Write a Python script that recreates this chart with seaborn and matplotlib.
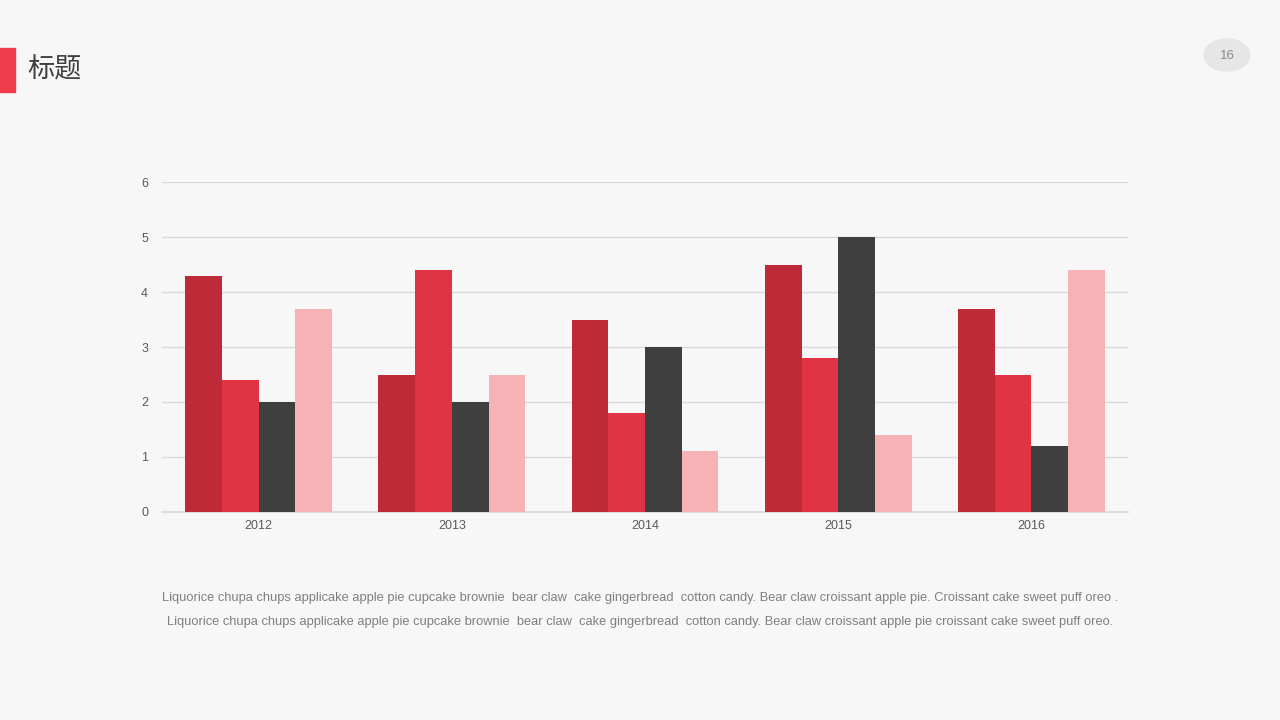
import pandas as pd
import seaborn as sns
import matplotlib.pyplot as plt
from matplotlib.patches import Rectangle, Ellipse

# data
years = ['2012', '2013', '2014', '2015', '2016']
series_names = ['系列1', '系列2', '系列3', '系列4']
s1 = [4.3, 2.5, 3.5, 4.5, 3.7]
s2 = [2.4, 4.4, 1.8, 2.8, 2.5]
s3 = [2.0, 2.0, 3.0, 5.0, 1.2]
s4 = [3.7, 2.5, 1.1, 1.4, 4.4]
colors = ['#BE2A37', '#E03444', '#3F3F3F', '#F7B2B5']
y_ticks = [0, 1, 2, 3, 4, 5, 6]
caption = ['Liquorice chupa chups applicake apple pie cupcake brownie  bear claw  cake gingerbread  cotton candy. Bear claw croissant apple pie. Croissant cake sweet puff oreo .',
           'Liquorice chupa chups applicake apple pie cupcake brownie  bear claw  cake gingerbread  cotton candy. Bear claw croissant apple pie croissant cake sweet puff oreo.']

rows = []
for name, vals in zip(series_names, [s1, s2, s3, s4]):
    for y, v in zip(years, vals):
        rows.append({'year': y, 'series': name, 'value': v})
df = pd.DataFrame(rows)

sns.set_theme(style='white')
plt.rcParams['font.family'] = ['Liberation Sans', 'Noto Sans CJK SC', 'DejaVu Sans']

bg = '#F7F7F7'
fig = plt.figure(figsize=(12.8, 7.2), dpi=100, facecolor=bg)
ax = fig.add_axes([0.1266, 0.2889, 0.7547, 0.4583])
ax.set_facecolor('none')

sns.barplot(data=df, x='year', y='value', hue='series', palette=colors,
            width=0.76, linewidth=0, saturation=1, ax=ax, zorder=3)
ax.get_legend().remove()

ax.set_xlim(-0.5, 4.5)
ax.set_ylim(0, 6)
ax.set_yticks(y_ticks)
ax.yaxis.grid(True, color='#D9D9D9', linewidth=1)
ax.set_axisbelow(True)
for s in ['top', 'right', 'left']:
    ax.spines[s].set_visible(False)
ax.spines['bottom'].set_color('#D9D9D9')
ax.tick_params(axis='both', length=0, labelsize=9, colors='#595959', pad=10)
ax.tick_params(axis='x', pad=6)
ax.set_xlabel('')
ax.set_ylabel('')

# slide decorations
fig.patches.append(Rectangle((0, 1 - 92 / 720), 15 / 1280, 44 / 720,
                             transform=fig.transFigure, color='#EF3B4A'))
fig.text(27 / 1280, 1 - 70 / 720, '标题', fontsize=19.5, color='#404040',
         va='center', ha='left', family=['Noto Sans CJK SC', 'DejaVu Sans'])
fig.patches.append(Ellipse((1227 / 1280, 1 - 55 / 720), 46 / 1280, 32 / 720,
                           transform=fig.transFigure, color='#E6E6E6'))
fig.text(1227 / 1280, 1 - 56 / 720, '16', fontsize=9.5, color='#8C8C8C',
         ha='center', va='center')

fig.text(640 / 1280, 1 - 598 / 720, caption[0], fontsize=9.3, color='#7F7F7F',
         ha='center', va='center')
fig.text(640 / 1280, 1 - 622 / 720, caption[1], fontsize=9.3, color='#7F7F7F',
         ha='center', va='center')

fig.savefig('out.png', dpi=100, facecolor=bg)
